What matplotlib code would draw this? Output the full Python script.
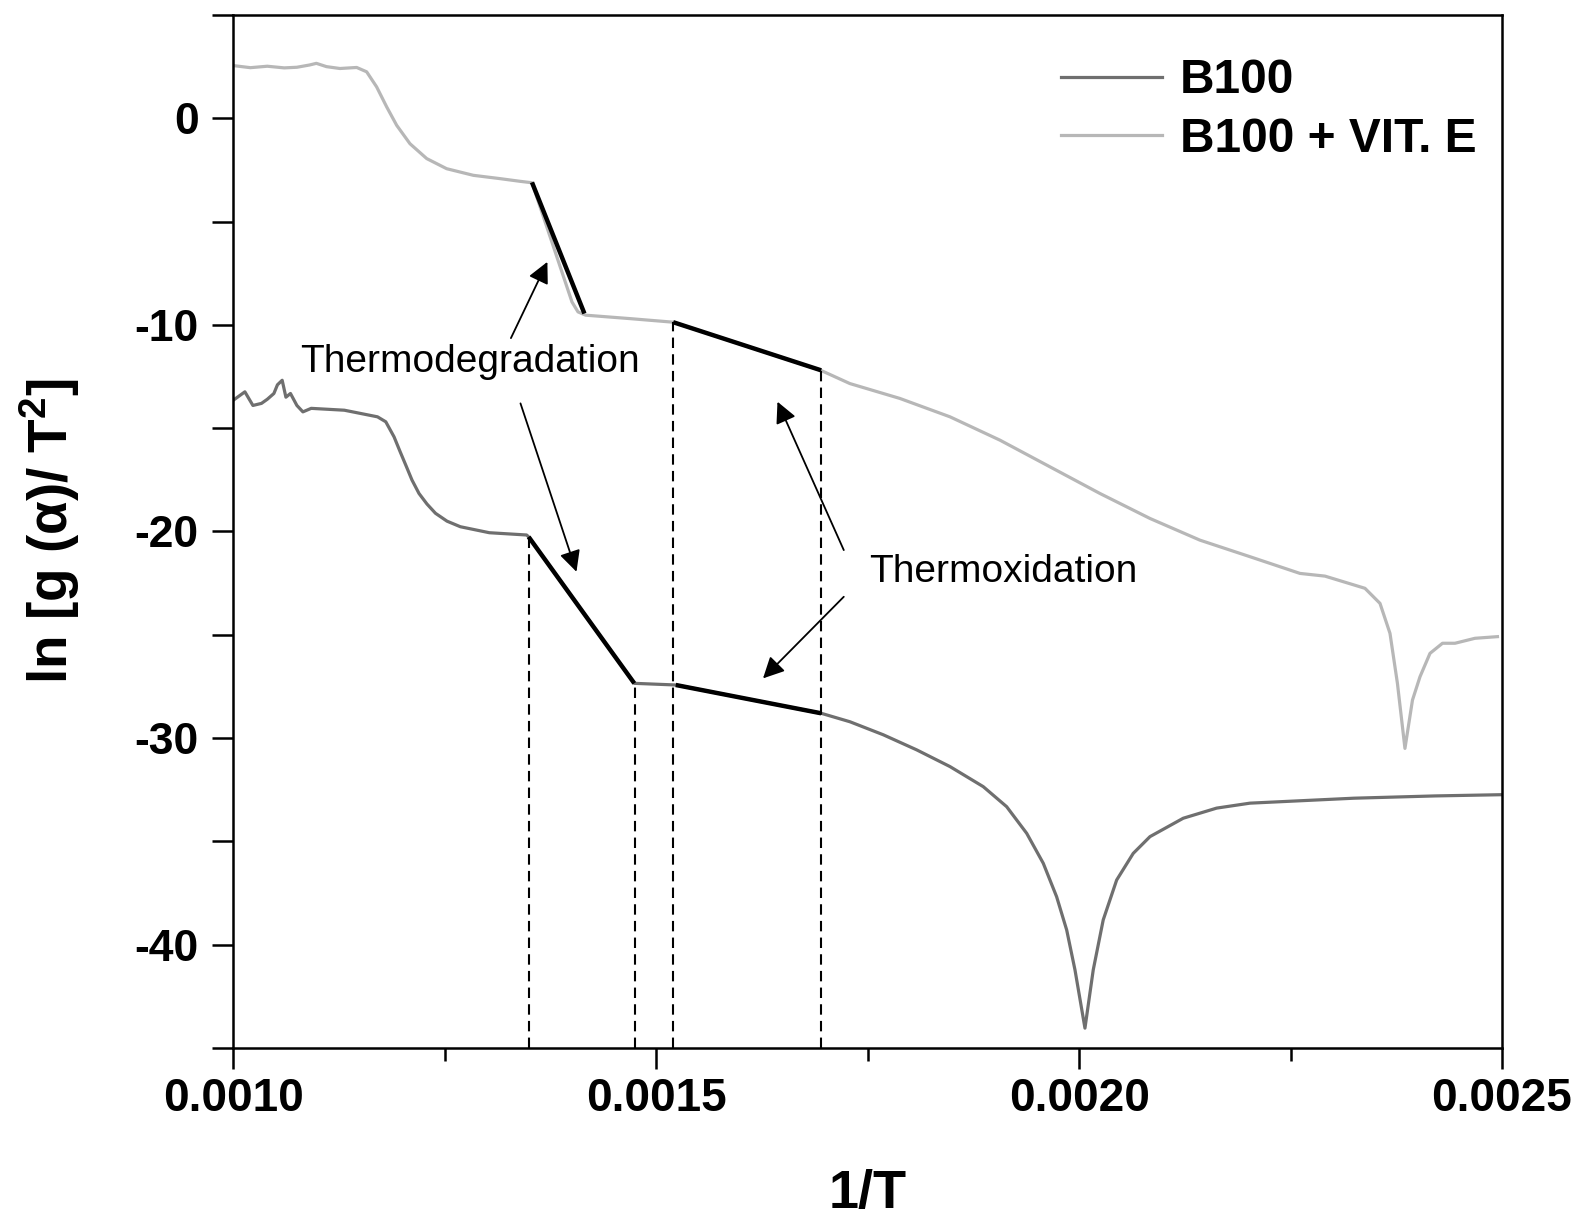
import numpy as np
import matplotlib
matplotlib.use("Agg")
import matplotlib.pyplot as plt
from matplotlib.ticker import MultipleLocator, FormatStrFormatter

plt.rcParams['font.family'] = ['Liberation Sans', 'DejaVu Sans']
plt.rcParams['axes.unicode_minus'] = False
plt.rcParams['mathtext.fontset'] = 'custom'
plt.rcParams['mathtext.bf'] = 'Liberation Sans:bold'
plt.rcParams['mathtext.rm'] = 'Liberation Sans'

# B100 + VIT. E (upper, light grey)
x_vit = [0.0010, 0.00102, 0.00104, 0.00106, 0.001075, 0.00109, 0.001098, 0.00111,
         0.0011259, 0.0011457, 0.0011575, 0.0011693, 0.0011812, 0.001193,
         0.0012087, 0.0012285, 0.0012521, 0.0012836, 0.0013151, 0.0013388, 0.001353,
         0.0014003, 0.0014074, 0.0014165, 0.001470, 0.00152,
         0.001694, 0.0017289, 0.001788, 0.0018473, 0.0019064, 0.0019655,
         0.0020246, 0.0020838, 0.0021429, 0.002202, 0.0022612, 0.0022907,
         0.002338, 0.0023558, 0.0023676, 0.0023764, 0.0023853, 0.0023942,
         0.0024031, 0.0024149, 0.0024297, 0.0024445, 0.0024681, 0.0024947]
y_vit = [2.55, 2.45, 2.52, 2.44, 2.47, 2.58, 2.66, 2.5,
         2.41, 2.46, 2.25, 1.52, 0.55, -0.34,
         -1.23, -1.95, -2.44, -2.76, -2.92, -3.05, -3.12,
         -8.89, -9.37, -9.53, -9.70, -9.87,
         -12.19, -12.84, -13.56, -14.45, -15.58, -16.87,
         -18.16, -19.37, -20.42, -21.22, -22.03, -22.16,
         -22.75, -23.48, -24.93, -27.35, -30.50, -28.16,
         -27.03, -25.90, -25.41, -25.41, -25.17, -25.09]

# B100 (lower, dark grey)
x_b100 = [0.0010, 0.0010135, 0.001023, 0.0010331, 0.001040, 0.0010478, 0.001052,
          0.0010576, 0.001062, 0.0010674, 0.001075, 0.0010821, 0.0010919,
          0.0011311, 0.0011703, 0.0011801, 0.0011899, 0.0011968, 0.0012046,
          0.0012111, 0.0012194, 0.0012288, 0.0012389, 0.0012525, 0.0012683,
          0.0013026, 0.0013467, 0.001349,
          0.001474, 0.001523, 0.001695, 0.001729, 0.0017684, 0.0018079,
          0.0018473, 0.0018866, 0.0019143, 0.001938, 0.0019576, 0.0019734,
          0.0019853, 0.0019951, 0.0020069, 0.0020167, 0.0020285, 0.0020444,
          0.002064, 0.0020838, 0.0021231, 0.0021626, 0.002202, 0.002325,
          0.0024206, 0.0025]
y_b100 = [-13.64, -13.24, -13.9, -13.80, -13.6, -13.32, -12.9,
          -12.68, -13.5, -13.32, -13.9, -14.21, -14.04,
          -14.13, -14.45, -14.69, -15.42, -16.11, -16.87,
          -17.51, -18.16, -18.67, -19.12, -19.5, -19.77,
          -20.06, -20.17, -20.26,
          -27.35, -27.43, -28.80, -29.21, -29.84, -30.57,
          -31.38, -32.35, -33.32, -34.61, -36.06, -37.68,
          -39.29, -41.22, -44.04, -41.22, -38.80, -36.87,
          -35.58, -34.77, -33.88, -33.39, -33.15, -32.91,
          -32.80, -32.74]

# linear fit segments (x0, y0, x1, y1)
fits = [(0.001353, -3.10, 0.001415, -9.45),
        (0.00152, -9.87, 0.001695, -12.20),
        (0.001349, -20.26, 0.001474, -27.35),
        (0.001523, -27.43, 0.001695, -28.80)]

# vertical dashed markers (x, top value)
dash_x = [0.00135, 0.001475, 0.00152, 0.001695]
dash_top = [-20.3, -27.35, -9.85, -12.2]

fig = plt.figure(figsize=(15.85, 12.19), dpi=100)
ax = fig.add_axes([0.1473, 0.1403, 0.8003, 0.8474])

ax.plot(x_b100, y_b100, color='#6f6f6f', lw=2.3, label='B100')
ax.plot(x_vit, y_vit, color='#b7b7b7', lw=2.3, label='B100 + VIT. E')

for x0, y0, x1, y1 in fits:
    ax.plot([x0, x1], [y0, y1], color='black', lw=3.2, solid_capstyle='butt')

ax.vlines(dash_x, -45, dash_top, colors='black', lw=1.5, linestyles=(0, (5, 3)))

arrow = dict(arrowstyle='-|>', color='black', lw=1.3, mutation_scale=32,
             shrinkA=0, shrinkB=0)
ax.annotate('', xy=(0.0013712, -6.95), xytext=(0.0013281, -10.64), arrowprops=arrow)
ax.annotate('', xy=(0.0014056, -21.95), xytext=(0.0013394, -13.80), arrowprops=arrow)
ax.annotate('', xy=(0.0016433, -13.72), xytext=(0.0017217, -20.90), arrowprops=arrow)
ax.annotate('', xy=(0.0016262, -27.11), xytext=(0.0017217, -23.16), arrowprops=arrow)

ax.text(0.0012797, -11.8, 'Thermodegradation', fontsize=28, ha='center', va='center')
ax.text(0.0017515, -21.96, 'Thermoxidation', fontsize=28, ha='left', va='center')

ax.set_xlim(0.0010, 0.0025)
ax.set_ylim(-45, 5)
ax.xaxis.set_major_locator(MultipleLocator(0.0005))
ax.xaxis.set_minor_locator(MultipleLocator(0.00025))
ax.xaxis.set_major_formatter(FormatStrFormatter('%.4f'))
ax.yaxis.set_major_locator(MultipleLocator(10))
ax.yaxis.set_minor_locator(MultipleLocator(5))

ax.tick_params(axis='both', which='both', direction='out', width=1.8,
               top=False, right=False)
ax.tick_params(axis='x', which='major', length=15, pad=6, labelsize=33)
ax.tick_params(axis='x', which='minor', length=9)
ax.tick_params(axis='y', which='major', length=15, pad=10, labelsize=32)
ax.tick_params(axis='y', which='minor', length=15)
for lab in ax.get_xticklabels() + ax.get_yticklabels():
    lab.set_fontweight('bold')
for sp in ax.spines.values():
    sp.set_linewidth(1.8)

ax.set_xlabel('1/T', fontsize=39, fontweight='bold')
ax.set_ylabel('ln [g (α)/ T$^{\\mathbf{2}}$]', fontsize=39.5, fontweight='bold')
ax.xaxis.set_label_coords(0.5, -0.117)
ax.yaxis.set_label_coords(-0.1195, 0.5)

ax.legend(loc='upper left', bbox_to_anchor=(0.6523, 0.958), frameon=False,
          prop={'size': 34.5, 'weight': 'bold'}, handlelength=2.1,
          handletextpad=0.38, labelspacing=0.28, borderpad=0, borderaxespad=0)

fig.savefig('out.png', dpi=100)
